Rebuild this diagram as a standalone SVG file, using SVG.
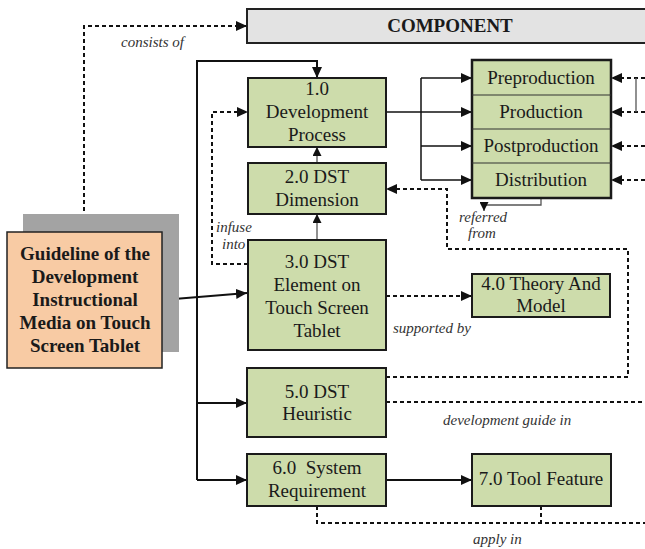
<svg xmlns="http://www.w3.org/2000/svg" width="645" height="549" viewBox="0 0 645 549">
  <style>
    .node { fill: #cddcab; stroke: #1a1a1a; stroke-width: 2; }
    .txt { font-family: "Liberation Serif", "Times New Roman", serif; font-size: 19px; fill: #1a1a1a; text-anchor: middle; }
    .bold { font-weight: bold; }
    .lbl { font-family: "Liberation Serif", "Times New Roman", serif; font-size: 15px; font-style: italic; fill: #333; }
    .solid { fill: none; stroke: #111; stroke-width: 2; }
    .thin { fill: none; stroke: #555; stroke-width: 1.3; }
    .dash { fill: none; stroke: #111; stroke-width: 2; stroke-dasharray: 4 3; }
  </style>
  <defs>
    <marker id="arrow" markerUnits="userSpaceOnUse" markerWidth="12" markerHeight="10" refX="11" refY="5" orient="auto">
      <path d="M0,0 L11,5 L0,10 z" fill="#111"/>
    </marker>
    <marker id="arrowSmall" markerUnits="userSpaceOnUse" markerWidth="10" markerHeight="9" refX="9" refY="4.5" orient="auto">
      <path d="M0,0 L9,4.5 L0,9 z" fill="#111"/>
    </marker>
  </defs>

  <rect width="645" height="549" fill="#ffffff"/>

  <!-- Header -->
  <g id="component">
    <rect x="247" y="9" width="410" height="34" fill="#e3e3e3" stroke="#222" stroke-width="2"/>
    <text class="txt bold" x="450" y="32">COMPONENT</text>
  </g>

  <!-- Connectors -->
  <g id="connectors">
    <!-- consists of -->
    <path class="dash" d="M84,232 V26 H247" marker-end="url(#arrow)"/>
    <!-- main bus -->
    <path class="solid" d="M197,480 V61 H317 V78" marker-end="url(#arrow)"/>
    <path class="solid" d="M197,403 H247" marker-end="url(#arrow)"/>
    <path class="solid" d="M197,480 H247" marker-end="url(#arrow)"/>
    <!-- guideline to 3.0 -->
    <path class="solid" d="M162,300 L247,293" marker-end="url(#arrow)"/>
    <!-- 3.0 -> 2.0 -> 1.0 -->
    <path class="thin" d="M317,240 V214" marker-end="url(#arrowSmall)"/>
    <path class="thin" d="M317,163 V147" marker-end="url(#arrowSmall)"/>
    <!-- infuse into -->
    <path class="dash" d="M248,264 H212 V112 H248" marker-end="url(#arrow)"/>
    <!-- 1.0 to stages -->
    <path class="solid" style="stroke-width:1.5" d="M386,112 H472" marker-end="url(#arrow)"/>
    <path class="solid" style="stroke-width:1.5" d="M421,78 V180"/>
    <path class="solid" style="stroke-width:1.5" d="M421,78 H472" marker-end="url(#arrow)"/>
    <path class="solid" style="stroke-width:1.5" d="M421,146 H472" marker-end="url(#arrow)"/>
    <path class="solid" style="stroke-width:1.5" d="M421,180 H472" marker-end="url(#arrow)"/>
    <!-- referred from -->
    <path class="thin" d="M541,198 V205 H484 V211" marker-end="url(#arrowSmall)"/>
    <!-- incoming from the right -->
    <path class="dash" d="M645,78 H611" marker-end="url(#arrow)"/>
    <path class="dash" d="M645,112 H611" marker-end="url(#arrow)"/>
    <path class="dash" d="M645,146 H611" marker-end="url(#arrow)"/>
    <path class="dash" d="M645,180 H611" marker-end="url(#arrow)"/>
    <path class="thin" d="M636,78 V112"/>
    <!-- 5.0 back to 2.0 -->
    <path class="dash" d="M386,377 H628 V249 H447 V189 H386" marker-end="url(#arrow)"/>
    <!-- supported by -->
    <path class="dash" d="M386,296 H472" marker-end="url(#arrow)"/>
    <!-- development guide in -->
    <path class="dash" d="M386,402 H645"/>
    <!-- 6.0 -> 7.0 -->
    <path class="solid" d="M386,480 H472" marker-end="url(#arrow)"/>
    <!-- apply in -->
    <path class="dash" d="M317,506 V523 H645"/>
    <path class="dash" d="M541,506 V523"/>

    <text class="lbl" x="121" y="47">consists of</text>
    <text class="lbl" x="216" y="232">infuse</text>
    <text class="lbl" x="222" y="249">into</text>
    <text class="lbl" x="459" y="222">referred</text>
    <text class="lbl" x="468" y="238">from</text>
    <text class="lbl" x="393" y="333">supported by</text>
    <text class="lbl" x="443" y="425">development guide in</text>
    <text class="lbl" x="473" y="544">apply in</text>
  </g>

  <!-- Guideline -->
  <g id="guideline">
    <rect x="23" y="214" width="156" height="138" fill="#a3a3a3"/>
    <rect x="7" y="232" width="155" height="136" fill="#f8cba4" stroke="#222" stroke-width="1.5"/>
    <text class="txt bold" x="85" y="260">Guideline of the</text>
    <text class="txt bold" x="85" y="283">Development</text>
    <text class="txt bold" x="85" y="306">Instructional</text>
    <text class="txt bold" x="85" y="329">Media on Touch</text>
    <text class="txt bold" x="85" y="352">Screen Tablet</text>
  </g>

  <g id="n1">
    <rect class="node" x="248" y="78" width="138" height="69"/>
    <text class="txt" x="317" y="95">1.0</text>
    <text class="txt" x="317" y="118">Development</text>
    <text class="txt" x="317" y="141">Process</text>
  </g>

  <g id="n2">
    <rect class="node" x="248" y="163" width="138" height="51"/>
    <text class="txt" x="317" y="183">2.0 DST</text>
    <text class="txt" x="317" y="206">Dimension</text>
  </g>

  <g id="n3">
    <rect class="node" x="248" y="240" width="138" height="110"/>
    <text class="txt" x="317" y="268">3.0 DST</text>
    <text class="txt" x="317" y="291">Element on</text>
    <text class="txt" x="317" y="314">Touch Screen</text>
    <text class="txt" x="317" y="337">Tablet</text>
  </g>

  <g id="n4">
    <rect class="node" x="472" y="274" width="138" height="43"/>
    <text class="txt" x="541" y="290">4.0 Theory And</text>
    <text class="txt" x="541" y="312">Model</text>
  </g>

  <g id="n5">
    <rect class="node" x="247" y="368" width="139" height="69"/>
    <text class="txt" x="317" y="398">5.0 DST</text>
    <text class="txt" x="317" y="420">Heuristic</text>
  </g>

  <g id="n6">
    <rect class="node" x="247" y="454" width="139" height="52"/>
    <text class="txt" x="317" y="474" xml:space="preserve">6.0  System</text>
    <text class="txt" x="317" y="497">Requirement</text>
  </g>

  <g id="n7">
    <rect class="node" x="472" y="454" width="139" height="52"/>
    <text class="txt" x="541" y="485">7.0 Tool Feature</text>
  </g>

  <g id="stages">
    <rect x="472" y="60" width="139" height="138" fill="#cddcab" stroke="#1a1a1a" stroke-width="2.5"/>
    <path d="M472,95 H611 M472,129 H611 M472,163 H611" stroke="#333" stroke-width="1.2"/>
    <text class="txt" x="541" y="84">Preproduction</text>
    <text class="txt" x="541" y="118">Production</text>
    <text class="txt" x="541" y="152">Postproduction</text>
    <text class="txt" x="541" y="186">Distribution</text>
  </g>
</svg>
